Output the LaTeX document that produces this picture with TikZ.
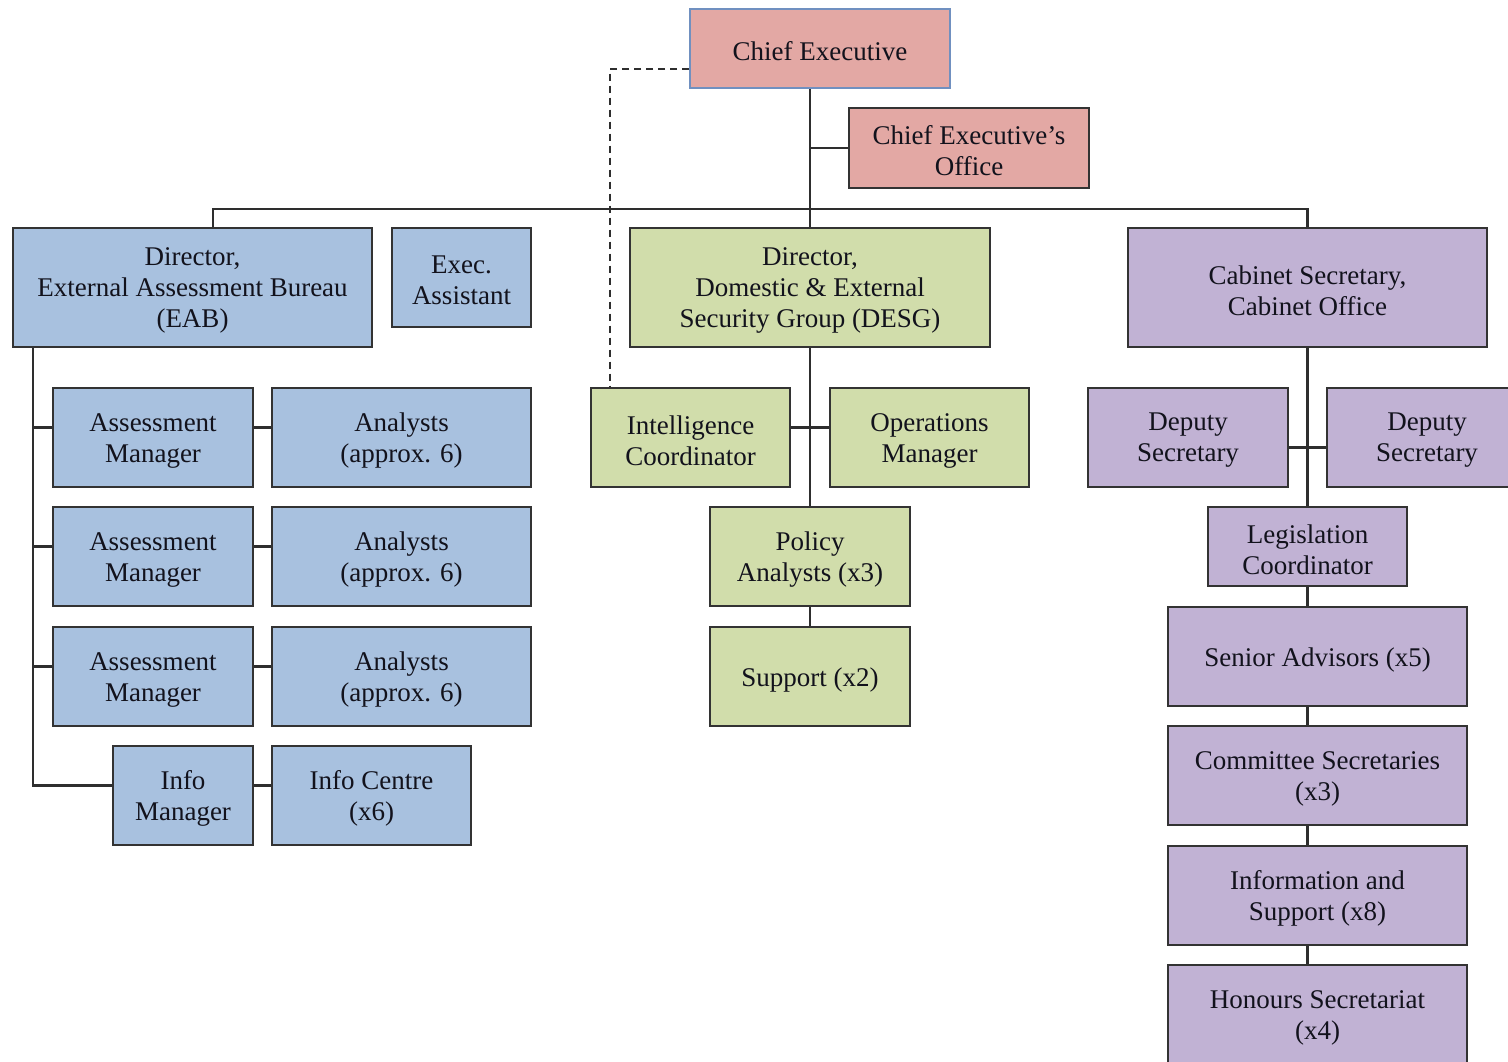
\documentclass[tikz,border=0pt]{standalone}
\usepackage{fontspec}
\setmainfont{Liberation Serif}
\definecolor{redf}{HTML}{E3A8A4}
\definecolor{bluef}{HTML}{A8C1DF}
\definecolor{greenf}{HTML}{D1DDAB}
\definecolor{purplef}{HTML}{C1B2D4}
\definecolor{bordc}{HTML}{333333}
\definecolor{ceb}{HTML}{7090C0}
\definecolor{linec}{HTML}{2E2E2E}
\definecolor{txt}{HTML}{12121C}
\tikzset{
  box/.style={draw=bordc, line width=2pt, inner sep=0pt},
  boxtext/.style={align=center, inner sep=0pt, yshift=-3pt,
    font=\fontsize{27}{31}\selectfont, text=txt},
  redbox/.style={box, fill=redf},
  bluebox/.style={box, fill=bluef},
  greenbox/.style={box, fill=greenf},
  purplebox/.style={box, fill=purplef},
  conn/.style={draw=linec, line width=2.2pt},
  dconn/.style={draw=linec, line width=2pt, dash pattern=on 7pt off 5pt},
}
\newcommand\orgbox[7]{\node[#6, minimum width={#4-#2}, minimum height={#5-#3},
  label={[boxtext]center:{#7}}] (#1) at ({(#2+#4)/2},{(#3+#5)/2}) {};}
\begin{document}
\begin{tikzpicture}[x=1pt,y=-1pt]
\useasboundingbox (0,0) rectangle (1508,1061);
\clip (0,0) rectangle (1508,1061);
\fill[white] (0,0) rectangle (1508,1061);
% top
\orgbox{ce}{690}{9}{950}{88}{redbox, draw=ceb}{Chief Executive}
\orgbox{ceo}{849}{108}{1089}{188}{redbox}{Chief Executive’s\\Office}
% level 2
\orgbox{eab}{13}{228}{372}{347}{bluebox}{Director,\\External Assessment Bureau\\(EAB)}
\orgbox{ea}{392}{228}{531}{327}{bluebox}{Exec.\\Assistant}
\orgbox{desg}{630}{228}{990}{347}{greenbox}{Director,\\Domestic \& External\\Security Group (DESG)}
\orgbox{cab}{1128}{228}{1487}{347}{purplebox}{Cabinet Secretary,\\Cabinet Office}
% EAB
\orgbox{am1}{53}{388}{253}{487}{bluebox}{Assessment\\Manager}
\orgbox{an1}{272}{388}{531}{487}{bluebox}{Analysts\\(approx. 6)}
\orgbox{am2}{53}{507}{253}{606}{bluebox}{Assessment\\Manager}
\orgbox{an2}{272}{507}{531}{606}{bluebox}{Analysts\\(approx. 6)}
\orgbox{am3}{53}{627}{253}{726}{bluebox}{Assessment\\Manager}
\orgbox{an3}{272}{627}{531}{726}{bluebox}{Analysts\\(approx. 6)}
\orgbox{im}{113}{746}{253}{845}{bluebox}{Info\\Manager}
\orgbox{icn}{272}{746}{471}{845}{bluebox}{Info Centre\\(x6)}
% DESG
\orgbox{ic}{591}{388}{790}{487}{greenbox}{Intelligence\\Coordinator}
\orgbox{om}{830}{388}{1029}{487}{greenbox}{Operations\\Manager}
\orgbox{pa}{710}{507}{910}{606}{greenbox}{Policy\\Analysts (x3)}
\orgbox{sup}{710}{627}{910}{726}{greenbox}{Support (x2)}
% Cabinet
\orgbox{ds1}{1088}{388}{1288}{487}{purplebox}{Deputy\\Secretary}
\orgbox{ds2}{1327}{388}{1527}{487}{purplebox}{Deputy\\Secretary}
\orgbox{lc}{1208}{507}{1407}{586}{purplebox}{Legislation\\Coordinator}
\orgbox{sa}{1168}{607}{1467}{706}{purplebox}{Senior Advisors (x5)}
\orgbox{cs}{1168}{726}{1467}{825}{purplebox}{Committee Secretaries\\(x3)}
\orgbox{is}{1168}{846}{1467}{945}{purplebox}{Information and\\Support (x8)}
\orgbox{hs}{1168}{965}{1467}{1065}{purplebox}{Honours Secretariat\\(x4)}
% connectors
\coordinate (j) at (810,209);
\coordinate (bl) at (213,209);
\coordinate (sp) at (33,0);
\draw[conn] (ce.south -| j) -- (desg.north);
\draw[conn] (ceo.west) -- (ceo.west -| j);
\draw[conn] (bl |- eab.north) -- (bl) -- (cab.north |- bl) -- (cab.north);
\draw[dconn] ([yshift=-20pt]ce.west) -| ([xshift=20pt]ic.north west);
% EAB
\draw[conn] (sp |- eab.south) |- ([yshift=10pt]im.west);
\draw[conn] ([yshift=10pt]am1.west) -- ++(-20,0);
\draw[conn] ([yshift=10pt]am2.west) -- ++(-20,0);
\draw[conn] ([yshift=10pt]am3.west) -- ++(-20,0);
\draw[conn] ([yshift=10pt]am1.east) -- ([yshift=10pt]an1.west);
\draw[conn] ([yshift=10pt]am2.east) -- ([yshift=10pt]an2.west);
\draw[conn] ([yshift=10pt]am3.east) -- ([yshift=10pt]an3.west);
\draw[conn] ([yshift=10pt]im.east) -- ([yshift=10pt]icn.west);
% DESG
\draw[conn] (desg.south) -- (pa.north);
\draw[conn] ([yshift=10pt]ic.east) -- ([yshift=10pt]om.west);
\draw[conn] (pa.south) -- (sup.north);
% Cabinet
\draw[conn] (cab.south) -- (lc.north);
\draw[conn] ([yshift=-10pt]ds1.east) -- ([yshift=-10pt]ds2.west);
\draw[conn] (lc.south) -- (lc.south |- sa.north);
\draw[conn] (sa.south -| lc.south) -- (cs.north -| lc.south);
\draw[conn] (cs.south -| lc.south) -- (is.north -| lc.south);
\draw[conn] (is.south -| lc.south) -- (hs.north -| lc.south);
\end{tikzpicture}
\end{document}
